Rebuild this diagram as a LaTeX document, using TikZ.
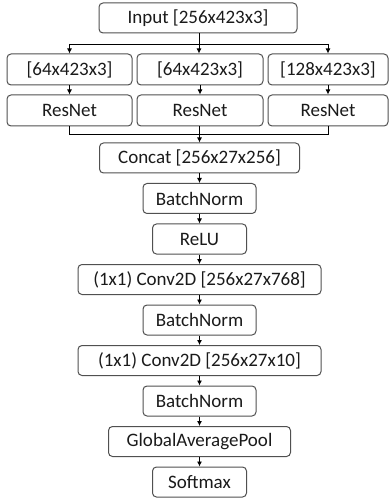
\documentclass[tikz,border=0pt]{standalone}
\usepackage{fontspec}
\setmainfont{Carlito}
\usetikzlibrary{arrows.meta}
\definecolor{boxgray}{HTML}{505050}
\definecolor{textgray}{HTML}{1A1A1A}
\begin{document}
\begin{tikzpicture}[x=1pt,y=-1pt,
  blk/.style={draw=boxgray, line width=1pt, rounded corners=4pt, inner sep=0pt,
    font=\fontsize{19}{21}\selectfont, text=textgray},
  arr/.style={-{Latex[length=5pt,width=5pt]}, line width=0.8pt},
  ln/.style={line width=0.8pt}]
\useasboundingbox (0,0) rectangle (389,502);

\node[blk, minimum width=198pt, minimum height=30pt] (inp) at (198,18) {Input [256x423x3]};

\node[blk, minimum width=125pt, minimum height=31pt] (a1) at (69.5,69.5) {[64x423x3]};
\node[blk, minimum width=126pt, minimum height=31pt] (a2) at (200,69.5) {[64x423x3]};
\node[blk, minimum width=120pt, minimum height=31pt] (a3) at (328,69.5) {[128x423x3]};

\node[blk, minimum width=125pt, minimum height=31pt] (b1) at (69.5,110.5) {ResNet};
\node[blk, minimum width=126pt, minimum height=31pt] (b2) at (200,110.5) {ResNet};
\node[blk, minimum width=120pt, minimum height=31pt] (b3) at (328,110.5) {ResNet};

\node[blk, minimum width=200pt, minimum height=30pt] (concat) at (199.5,158) {Concat [256x27x256]};
\node[blk, minimum width=113pt, minimum height=30pt] (bn1) at (199.5,198.5) {BatchNorm};
\node[blk, minimum width=94pt, minimum height=30pt] (relu) at (199.5,239) {ReLU};
\node[blk, minimum width=243pt, minimum height=30pt] (conv1) at (199.5,279.5) {(1x1) Conv2D [256x27x768]};
\node[blk, minimum width=113pt, minimum height=30pt] (bn2) at (199.5,320) {BatchNorm};
\node[blk, minimum width=243pt, minimum height=30pt] (conv2) at (199.5,360.5) {(1x1) Conv2D [256x27x10]};
\node[blk, minimum width=113pt, minimum height=30pt] (bn3) at (199.5,401) {BatchNorm};
\node[blk, minimum width=182pt, minimum height=30pt] (gap) at (199.5,441.5) {GlobalAveragePool};
\node[blk, minimum width=94pt, minimum height=30pt] (soft) at (199.5,482) {Softmax};

% branch
\coordinate (br0) at (199,44);
\coordinate (br1) at (69.5,44);
\coordinate (br3) at (328,44);
\draw[ln] (inp.south -| br0) -- (br0);
\draw[ln] (br1) -- (br3);
\draw[arr] (br1) -- (a1.north);
\draw[arr] (br0) -- (a2.north -| br0);
\draw[arr] (br3) -- (a3.north);

\draw[arr] (a1) -- (b1);
\draw[arr] (a2) -- (b2);
\draw[arr] (a3) -- (b3);

% merge
\coordinate (mg1) at (69.5,134);
\coordinate (mg3) at (328,134);
\coordinate (mg0) at (199.5,134);
\draw[ln] (b1.south) -- (mg1) -- (mg3) -- (b3.south);
\draw[arr] (b2.south -| mg0) -- (concat.north);

\draw[arr] (concat) -- (bn1);
\draw[arr] (bn1) -- (relu);
\draw[arr] (relu) -- (conv1);
\draw[arr] (conv1) -- (bn2);
\draw[arr] (bn2) -- (conv2);
\draw[arr] (conv2) -- (bn3);
\draw[arr] (bn3) -- (gap);
\draw[arr] (gap) -- (soft);
\end{tikzpicture}
\end{document}
